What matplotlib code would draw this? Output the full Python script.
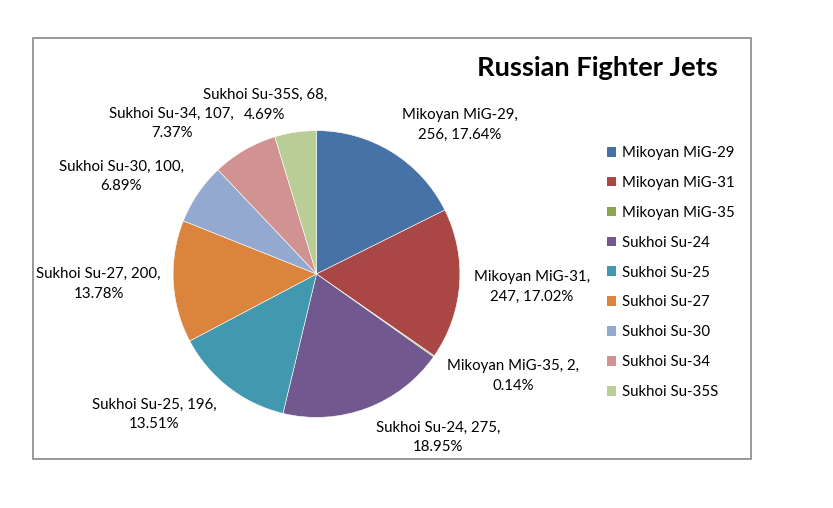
import matplotlib
matplotlib.use("Agg")
import matplotlib.pyplot as plt
from matplotlib.patches import Rectangle, Patch

jets = ["Mikoyan MiG-29", "Mikoyan MiG-31", "Mikoyan MiG-35", "Sukhoi Su-24",
        "Sukhoi Su-25", "Sukhoi Su-27", "Sukhoi Su-30", "Sukhoi Su-34", "Sukhoi Su-35S"]
counts = [256, 247, 2, 275, 196, 200, 100, 107, 68]
colors = ["#4572A7", "#AA4643", "#89A54E", "#71588F", "#4198AF",
          "#DB843D", "#93A9CF", "#D19392", "#B9CD96"]

# how each data label wraps (Excel best-fit layout)
label_breaks = [1, 1, 2, 2, 2, 2, 2, 2, 2]
# label centres in pie-radius units
label_pos = [(1.00, 1.04), (1.50, -0.09), (1.37, -0.71), (0.85, -1.14),
             (-1.13, -0.98), (-1.52, -0.07), (-1.36, 0.68), (-1.01, 1.05), (-0.36, 1.18)]

plt.rcParams["font.family"] = ["Lato", "DejaVu Sans"]

W, H = 833, 508
fig = plt.figure(figsize=(W / 100, H / 100), dpi=100)

# chart border
fig.patches.append(Rectangle((33 / W, 1 - 459 / H), (751 - 33) / W, (459 - 38) / H,
                             transform=fig.transFigure, fill=False,
                             edgecolor="#888888", linewidth=1.2))

cx, cy, r = 316.5, 274, 143.4
ax = fig.add_axes([(cx - r) / W, (H - cy - r) / H, 2 * r / W, 2 * r / H])
wedges, _ = ax.pie(counts, colors=colors, startangle=90, counterclock=False,
                   radius=1, wedgeprops=dict(edgecolor="white", linewidth=0.4))
ax.set_xlim(-1, 1)
ax.set_ylim(-1, 1)
ax.set_aspect("auto")
ax.axis("off")

total = sum(counts)
for name, n, brk, pos in zip(jets, counts, label_breaks, label_pos):
    parts = [name, str(n), "%.2f%%" % (100 * n / total)]
    txt = ", ".join(parts[:brk]) + ",\n" + ", ".join(parts[brk:])
    ax.text(pos[0], pos[1], txt, ha="center", va="center", fontsize=10.8,
            linespacing=1.5, clip_on=False)

fig.text(597 / W, 1 - 68 / H, "Russian Fighter Jets", ha="center", va="center",
         fontsize=19.6, fontweight="bold")

handles = [Patch(facecolor=c, edgecolor="none") for c in colors]
fig.legend(handles, jets, loc="upper left", bbox_to_anchor=(607 / W, 1 - 146 / H),
           frameon=False, fontsize=10.8, handlelength=0.62, handleheight=0.62,
           handletextpad=0.35, labelspacing=1.06, borderpad=0, borderaxespad=0)

fig.savefig("out.png", dpi=100)
